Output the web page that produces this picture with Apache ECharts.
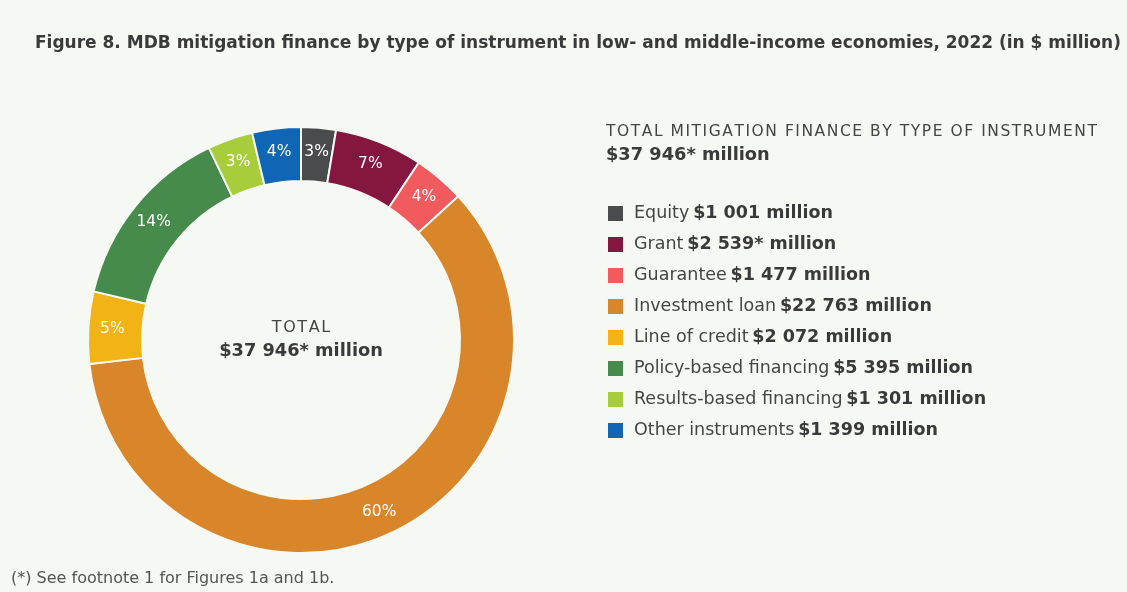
<!DOCTYPE html>
<html>
<head>
<meta charset="utf-8">
<script src="https://cdn.jsdelivr.net/npm/echarts@6/dist/echarts.min.js"></script>
<style>
  html, body { margin: 0; padding: 0; background: #f6f8f3; }
  #chart { width: 1127px; height: 592px; }
</style>
</head>
<body>
<div id="chart"></div>
<script>
// instrument types, clockwise from 12 o'clock
var categories = ["Equity", "Grant", "Guarantee", "Investment loan", "Line of credit",
  "Policy-based financing", "Results-based financing", "Other instruments"];
var values = [1001, 2539, 1477, 22763, 2072, 5395, 1301, 1399];
var valueLabels = ["$1 001 million", "$2 539* million", "$1 477 million", "$22 763 million",
  "$2 072 million", "$5 395 million", "$1 301 million", "$1 399 million"];
var colors = ["#4a4b4d", "#85163f", "#f15b5d", "#d9852a", "#f1b316", "#468b4b", "#a8cd3a", "#0f66b4"];
var totalLabel = "$37 946* million";

var bg = "#f6f8f3";
var font = "'DejaVu Sans', sans-serif";
var chart = echarts.init(document.getElementById("chart"));

// spread letters a little, the original headings are letter-spaced
function spaced(s) {
  return s.split("").join("\u200A");
}

var pieData = categories.map(function (c, i) {
  return { name: c, value: values[i] };
});

var option = {
  backgroundColor: bg,
  color: colors,
  textStyle: { fontFamily: font },
  title: {
    text: "Figure 8. MDB mitigation finance by type of instrument in low- and middle-income economies, 2022 (in $ million)",
    left: 30,
    top: 30,
    textStyle: { fontSize: 17, fontWeight: "bold", color: "#3a3a3a", fontFamily: font }
  },
  legend: {
    orient: "vertical",
    left: 606,
    top: 204,
    padding: 0,
    icon: "rect",
    itemWidth: 17,
    itemHeight: 17,
    itemGap: 12,
    selectedMode: false,
    data: categories,
    formatter: function (name) {
      var i = categories.indexOf(name);
      return "{n|" + name + "} {v|" + valueLabels[i] + "}";
    },
    textStyle: {
      padding: [0, 0, 0, 5],
      rich: {
        n: { fontSize: 17.5, color: "#454545", fontFamily: font },
        v: { fontSize: 17.5, fontWeight: "bold", color: "#3a3a3a", fontFamily: font }
      }
    }
  },
  graphic: [
    {
      type: "text", left: 606, top: 124,
      style: { text: spaced("TOTAL MITIGATION FINANCE BY TYPE OF INSTRUMENT"), fontSize: 15.5,
        fill: "#454545", fontFamily: font }
    },
    {
      type: "text", left: 606, top: 146,
      style: { text: totalLabel, fontSize: 17.8, fontWeight: "bold",
        fill: "#3a3a3a", fontFamily: font }
    },
    {
      type: "text", x: 301, y: 320,
      style: { text: spaced("TOTAL"), fontSize: 16, fill: "#454545", fontFamily: font, align: "center" }
    },
    {
      type: "text", x: 301, y: 342,
      style: { text: totalLabel, fontSize: 17.8, fontWeight: "bold",
        fill: "#3a3a3a", fontFamily: font, align: "center" }
    },
    {
      type: "text", left: 11, top: 571,
      style: { text: "(*) See footnote 1 for Figures 1a and 1b.", fontSize: 16,
        fill: "#555", fontFamily: font }
    }
  ],
  series: [
    {
      type: "pie",
      center: [301, 340],
      radius: [159, 213],
      startAngle: 90,
      clockwise: true,
      avoidLabelOverlap: false,
      silent: true,
      itemStyle: { borderColor: bg, borderWidth: 2 },
      label: {
        show: true,
        position: "inside",
        color: "#fff",
        fontSize: 15.5,
        fontFamily: font,
        formatter: function (p) { return Math.round(p.percent) + "%"; }
      },
      labelLine: { show: false },
      data: pieData
    }
  ]
};

chart.setOption(option);
</script>
</body>
</html>
